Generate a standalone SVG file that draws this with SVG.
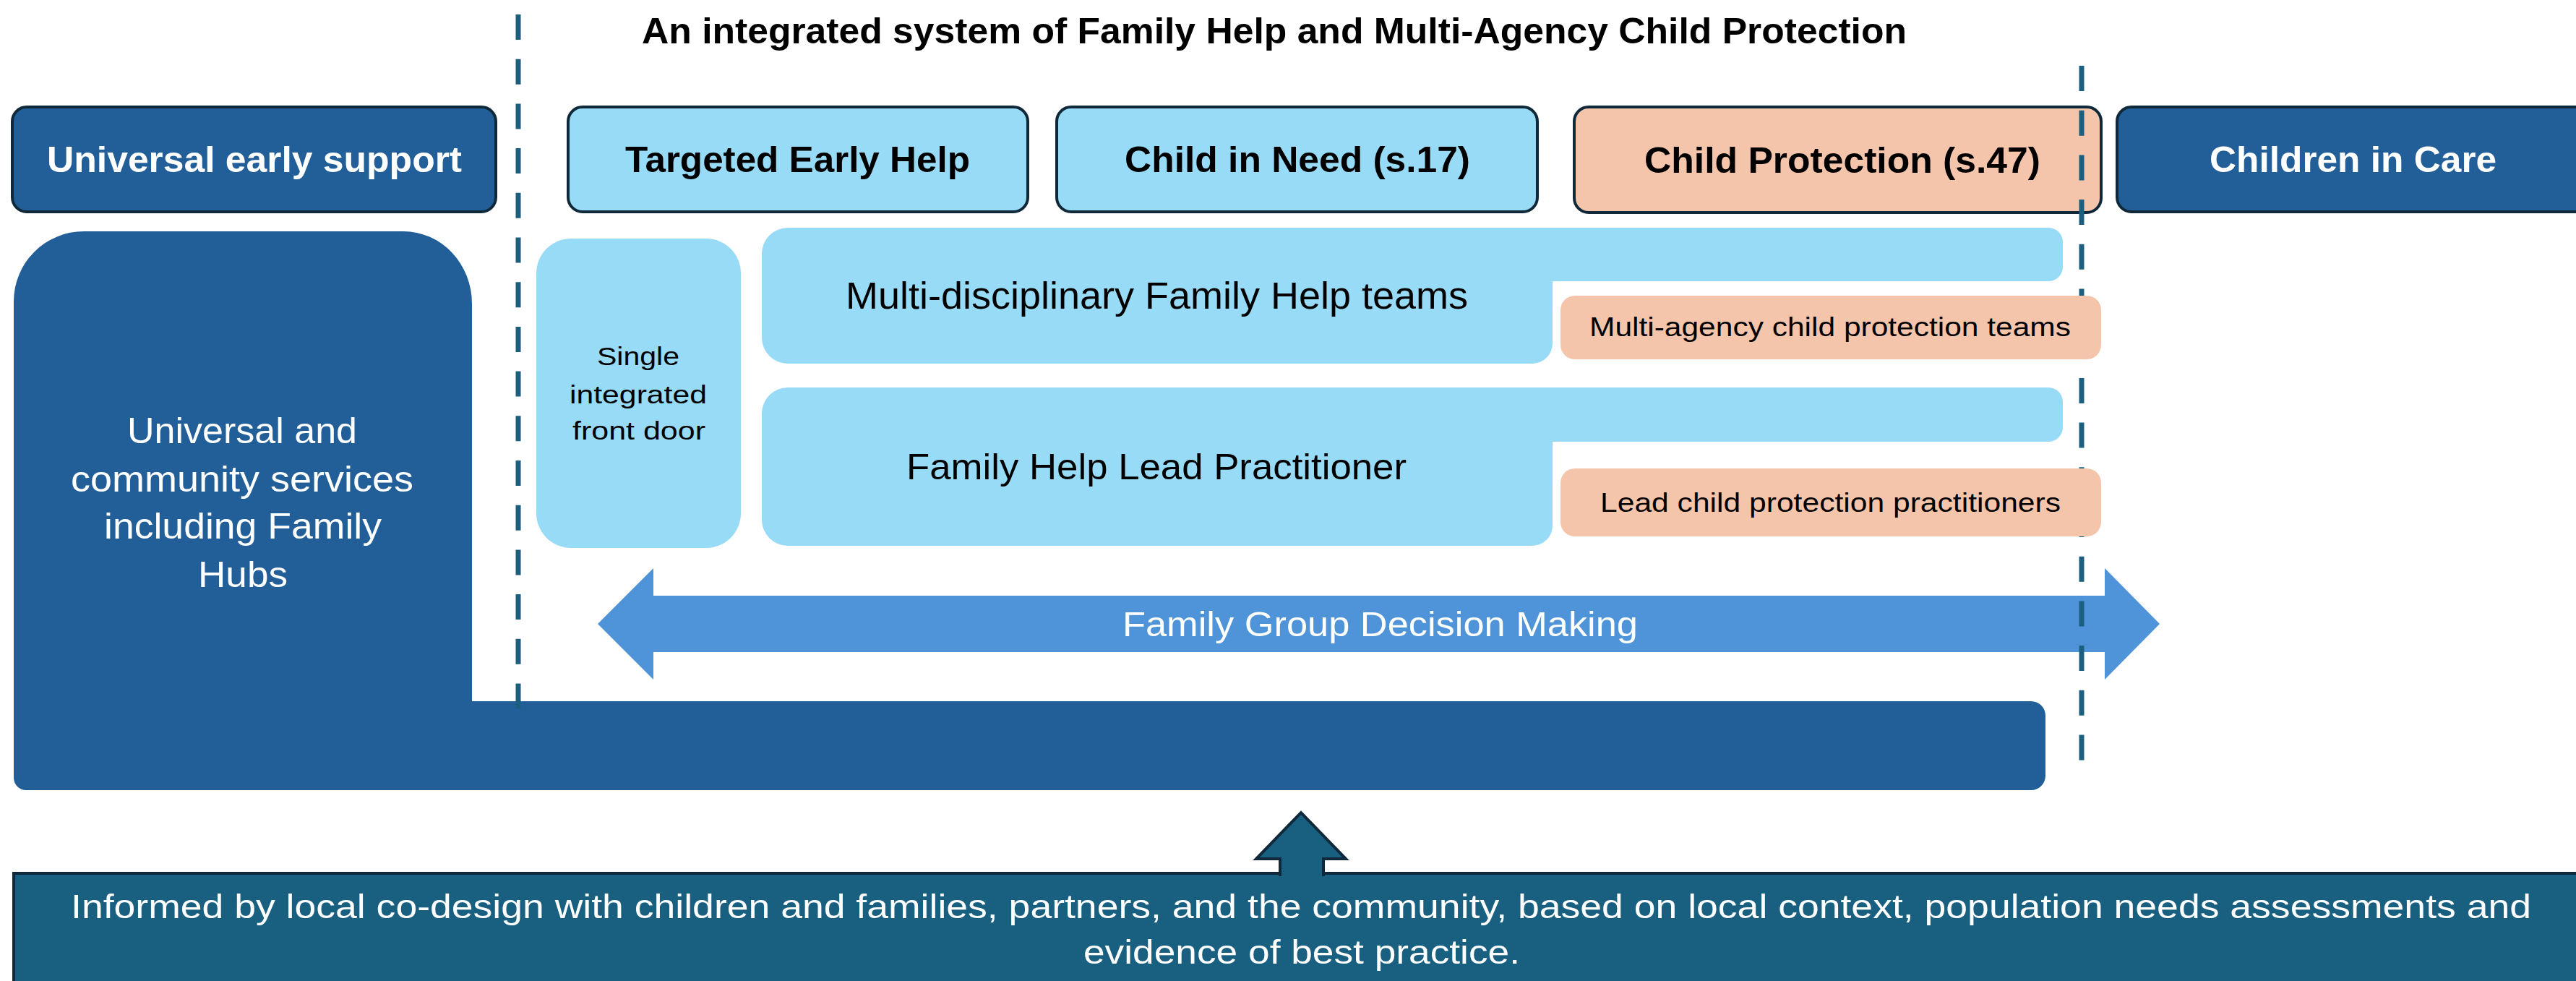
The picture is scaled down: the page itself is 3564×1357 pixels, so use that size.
<svg xmlns="http://www.w3.org/2000/svg" width="3564" height="1357" viewBox="0 0 3564 1357">
  <defs>
    <style>
      .txt { font-family: "Liberation Sans", Arial, sans-serif; }
      .bold { font-weight: bold; }
      .hdr { stroke: #10293A; stroke-width: 4; }
      .dark { fill: #225F99; }
      .light { fill: #97DBF6; }
      .pink { fill: #F5C5AB; }
      .teal { fill: #185F80; }
      .white { fill: #FFFFFF; }
      .black { fill: #000000; }
      .divider { stroke: #1B5F80; stroke-width: 7; stroke-dasharray: 35 26.7; fill: none; }
    </style>
  </defs>
  <rect x="0" y="0" width="3564" height="1357" fill="#FFFFFF"/>

  <!-- Heading -->
  <text id="title" class="txt bold black" x="888" y="60" font-size="50" textLength="1750" lengthAdjust="spacingAndGlyphs">An integrated system of Family Help and Multi-Agency Child Protection</text>

  <!-- Column headers -->
  <g id="hdr-universal">
    <rect class="hdr dark" x="17" y="148" width="669" height="145" rx="20"/>
    <text class="txt bold white" x="65" y="238" font-size="50" textLength="574" lengthAdjust="spacingAndGlyphs">Universal early support</text>
  </g>
  <g id="hdr-targeted">
    <rect class="hdr light" x="786" y="148" width="636" height="145" rx="20"/>
    <text class="txt bold black" x="865" y="238" font-size="50" textLength="477" lengthAdjust="spacingAndGlyphs">Targeted Early Help</text>
  </g>
  <g id="hdr-cin">
    <rect class="hdr light" x="1462" y="148" width="665" height="145" rx="20"/>
    <text class="txt bold black" x="1556" y="238" font-size="50" textLength="478" lengthAdjust="spacingAndGlyphs">Child in Need (s.17)</text>
  </g>
  <g id="hdr-cp">
    <rect class="hdr pink" x="2178" y="148" width="729" height="146" rx="20"/>
    <text class="txt bold black" x="2275" y="239" font-size="50" textLength="548" lengthAdjust="spacingAndGlyphs">Child Protection (s.47)</text>
  </g>
  <g id="hdr-care">
    <rect class="hdr dark" x="2929" y="148" width="680" height="145" rx="20"/>
    <text class="txt bold white" x="3057" y="238" font-size="50" textLength="397" lengthAdjust="spacingAndGlyphs">Children in Care</text>
  </g>

  <!-- Universal services block with base bar -->
  <g id="universal-services">
    <path class="dark" d="M19,417 A97 97 0 0 1 116,320 H558 A95 100 0 0 1 653,420 V970 H2810 A20 20 0 0 1 2830,990 V1073 A20 20 0 0 1 2810,1093 H36 A17 17 0 0 1 19,1076 Z"/>
    <text class="txt white" x="176" y="613" font-size="50" textLength="318" lengthAdjust="spacingAndGlyphs">Universal and</text>
    <text class="txt white" x="98" y="680" font-size="50" textLength="474" lengthAdjust="spacingAndGlyphs">community services</text>
    <text class="txt white" x="144" y="745" font-size="50" textLength="384" lengthAdjust="spacingAndGlyphs">including Family</text>
    <text class="txt white" x="274" y="812" font-size="50" textLength="124" lengthAdjust="spacingAndGlyphs">Hubs</text>
  </g>

  <!-- Family Group Decision Making arrow -->
  <g id="fgdm">
    <polygon fill="#4F94D8" points="827,863 904,786 904,824 2912,824 2912,786 2988,863 2912,940 2912,902 904,902 904,940"/>
    <text class="txt white" x="1553" y="880" font-size="48" textLength="713" lengthAdjust="spacingAndGlyphs">Family Group Decision Making</text>
  </g>

  <!-- Front door -->
  <g id="front-door">
    <rect class="light" x="742" y="330" width="283" height="428" rx="48"/>
    <text class="txt black" x="826" y="505" font-size="35" textLength="114" lengthAdjust="spacingAndGlyphs">Single</text>
    <text class="txt black" x="788" y="558" font-size="35" textLength="190" lengthAdjust="spacingAndGlyphs">integrated</text>
    <text class="txt black" x="792" y="608" font-size="35" textLength="184" lengthAdjust="spacingAndGlyphs">front door</text>
  </g>

  <!-- Family Help teams -->
  <g id="fh-teams">
    <path class="light" d="M1090,315 H2834 A20 20 0 0 1 2854,335 V369 A20 20 0 0 1 2834,389 H2148 V475 A28 28 0 0 1 2120,503 H1090 A36 36 0 0 1 1054,467 V351 A36 36 0 0 1 1090,315 Z"/>
    <text class="txt black" x="1170" y="427" font-size="51" textLength="861" lengthAdjust="spacingAndGlyphs">Multi-disciplinary Family Help teams</text>
  </g>

  <!-- Family Help Lead Practitioner -->
  <g id="fh-lead">
    <path class="light" d="M1090,536 H2834 A20 20 0 0 1 2854,556 V591 A20 20 0 0 1 2834,611 H2148 V727 A28 28 0 0 1 2120,755 H1090 A36 36 0 0 1 1054,719 V572 A36 36 0 0 1 1090,536 Z"/>
    <text class="txt black" x="1254" y="663" font-size="50" textLength="692" lengthAdjust="spacingAndGlyphs">Family Help Lead Practitioner</text>
  </g>

  <!-- Section dividers -->
  <g id="connectors">
    <line class="divider" x1="717" y1="20" x2="717" y2="986"/>
    <line class="divider" x1="2880" y1="91" x2="2880" y2="1052"/>
  </g>

  <!-- Child protection roles -->
  <g id="cp-teams">
    <rect class="pink" x="2159" y="409" width="748" height="88" rx="20"/>
    <text class="txt black" x="2199" y="465" font-size="37" textLength="666" lengthAdjust="spacingAndGlyphs">Multi-agency child protection teams</text>
  </g>
  <g id="cp-lead">
    <rect class="pink" x="2159" y="648" width="748" height="94" rx="20"/>
    <text class="txt black" x="2214" y="708" font-size="37" textLength="637" lengthAdjust="spacingAndGlyphs">Lead child protection practitioners</text>
  </g>

  <!-- Co-design foundation -->
  <g id="co-design">
    <rect class="teal" x="19" y="1208" width="3600" height="200" stroke="#10293A" stroke-width="4"/>
    <path class="teal" stroke="#10293A" stroke-width="4" stroke-linejoin="miter" d="M1771,1212 V1188 H1738 L1800,1124 L1862,1188 H1831 V1212"/>
    <text class="txt white" x="98" y="1270" font-size="47" textLength="3404" lengthAdjust="spacingAndGlyphs">Informed by local co-design with children and families, partners, and the community, based on local context, population needs assessments and</text>
    <text class="txt white" x="1499" y="1333" font-size="47" textLength="604" lengthAdjust="spacingAndGlyphs">evidence of best practice.</text>
  </g>
</svg>
